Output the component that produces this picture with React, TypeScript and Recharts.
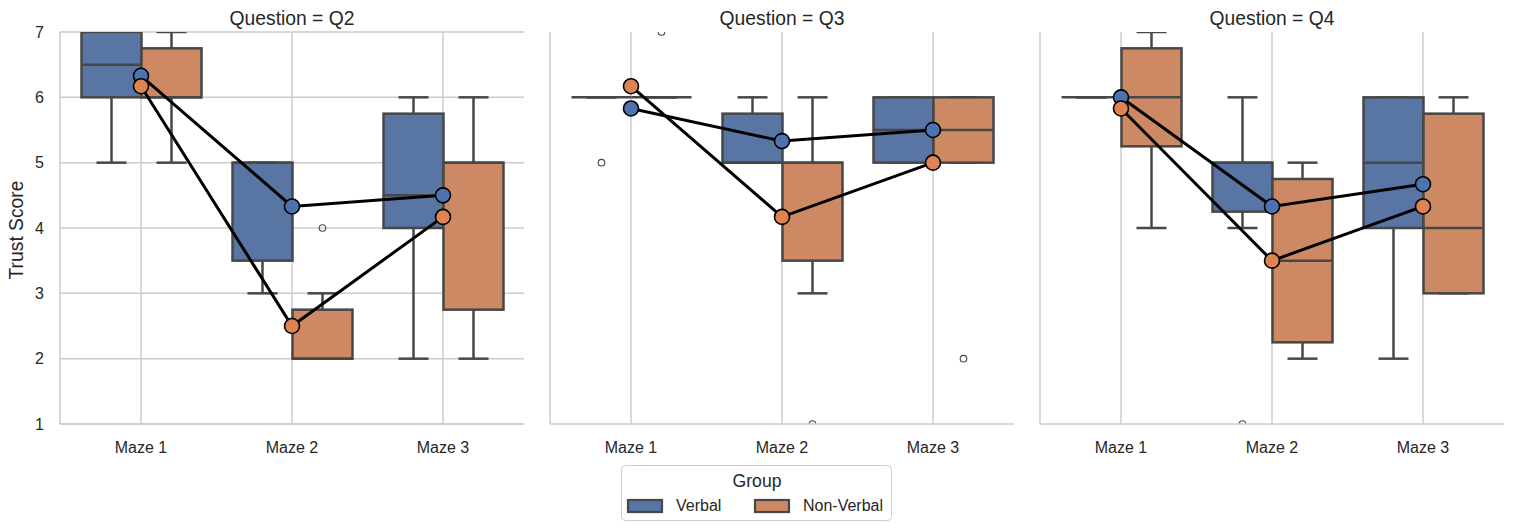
import React from 'react';
import { ComposedChart, Bar, Line, XAxis, YAxis, CartesianGrid } from 'recharts';

const FONT = '"Liberation Sans", Arial, Helvetica, sans-serif';
const TEXT = '#262626';
const GRID = '#cccccc';
const EDGE = '#474747';

const mazes = ['Maze 1', 'Maze 2', 'Maze 3'];
const questions = ['Q2', 'Q3', 'Q4'];
const groups = ['Verbal', 'Non-Verbal'];
const yTicks = [1, 2, 3, 4, 5, 6, 7];

const boxColors = ['#5875a4', '#cc8963'];
const meanColors = ['#4c72b0', '#dd8452'];

// box stats per maze: [lower whisker, Q1, median, Q3, upper whisker]
const q2VerbalBoxes = [[5, 6, 6.5, 7, 7], [3, 3.5, 5, 5, 5], [2, 4, 4.5, 5.75, 6]];
const q2NonVerbalBoxes = [[5, 6, 6, 6.75, 7], [2, 2, 2, 2.75, 3], [2, 2.75, 5, 5, 6]];
const q3VerbalBoxes = [[6, 6, 6, 6, 6], [5, 5, 5, 5.75, 6], [5, 5, 5.5, 6, 6]];
const q3NonVerbalBoxes = [[6, 6, 6, 6, 6], [3, 3.5, 5, 5, 6], [5, 5, 5.5, 6, 6]];
const q4VerbalBoxes = [[6, 6, 6, 6, 6], [4, 4.25, 5, 5, 6], [2, 4, 5, 6, 6]];
const q4NonVerbalBoxes = [[4, 5.25, 6, 6.75, 7], [2, 2.25, 3.5, 4.75, 5], [3, 3, 4, 5.75, 6]];

// outliers per maze
const q2VerbalOutliers = [[], [], []];
const q2NonVerbalOutliers = [[], [4], []];
const q3VerbalOutliers = [[5], [], []];
const q3NonVerbalOutliers = [[7], [1], [2]];
const q4VerbalOutliers = [[], [1], []];
const q4NonVerbalOutliers = [[], [], []];

// means per maze
const q2VerbalMeans = [6.33, 4.33, 4.5];
const q2NonVerbalMeans = [6.17, 2.5, 4.17];
const q3VerbalMeans = [5.83, 5.33, 5.5];
const q3NonVerbalMeans = [6.17, 4.17, 5.0];
const q4VerbalMeans = [6.0, 4.33, 4.67];
const q4NonVerbalMeans = [5.83, 3.5, 4.33];

const panelSources = [
  { boxes: [q2VerbalBoxes, q2NonVerbalBoxes], outs: [q2VerbalOutliers, q2NonVerbalOutliers], means: [q2VerbalMeans, q2NonVerbalMeans] },
  { boxes: [q3VerbalBoxes, q3NonVerbalBoxes], outs: [q3VerbalOutliers, q3NonVerbalOutliers], means: [q3VerbalMeans, q3NonVerbalMeans] },
  { boxes: [q4VerbalBoxes, q4NonVerbalBoxes], outs: [q4VerbalOutliers, q4NonVerbalOutliers], means: [q4VerbalMeans, q4NonVerbalMeans] },
];

const rangeOf = (stats: number[], outs: number[]) => {
  const all = [...stats, ...outs];
  return [Math.min(...all), Math.max(...all)];
};

const buildRows = (src: any) =>
  mazes.map((m, i) => ({
    maze: m,
    s0: src.boxes[0][i],
    s1: src.boxes[1][i],
    o0: src.outs[0][i],
    o1: src.outs[1][i],
    r0: rangeOf(src.boxes[0][i], src.outs[0][i]),
    r1: rangeOf(src.boxes[1][i], src.outs[1][i]),
    m0: src.means[0][i],
    m1: src.means[1][i],
  }));

const makeBoxShape = (g: number) => (props: any) => {
  const { x, y, width, height, payload } = props;
  if (!payload) return null;
  const stats: number[] = payload['s' + g];
  const outs: number[] = payload['o' + g];
  const [lo, hi] = payload['r' + g];
  const py = (v: number) => (hi === lo ? y : y + ((hi - v) / (hi - lo)) * height);
  const cx = x + width / 2;
  const capL = cx - width / 4;
  const capR = cx + width / 4;
  const yTop = py(stats[3]);
  const yBot = py(stats[1]);
  return (
    <g>
      <line x1={cx} x2={cx} y1={py(stats[0])} y2={yBot} stroke={EDGE} strokeWidth={2.5} />
      <line x1={cx} x2={cx} y1={yTop} y2={py(stats[4])} stroke={EDGE} strokeWidth={2.5} />
      <line x1={capL} x2={capR} y1={py(stats[0])} y2={py(stats[0])} stroke={EDGE} strokeWidth={2.5} />
      <line x1={capL} x2={capR} y1={py(stats[4])} y2={py(stats[4])} stroke={EDGE} strokeWidth={2.5} />
      {yBot - yTop > 0.5 && (
        <rect x={x} y={yTop} width={width} height={yBot - yTop} fill={boxColors[g]} stroke={EDGE} strokeWidth={2.5} />
      )}
      <line x1={x} x2={x + width} y1={py(stats[2])} y2={py(stats[2])} stroke={EDGE} strokeWidth={2.5} />
      {outs.map((o, k) => (
        <circle key={k} cx={cx} cy={py(o)} r={3.3} fill="none" stroke={EDGE} strokeWidth={1.1} />
      ))}
    </g>
  );
};

const PANEL_W = 530;
const PANEL_H = 531;
const PANEL_STEP = 490;

function Panel({ idx }: { idx: number }) {
  const rows = buildRows(panelSources[idx]);
  const showY = idx === 0;
  return (
    <div style={{ position: 'absolute', left: idx * PANEL_STEP, top: 0, width: PANEL_W, height: PANEL_H }}>
      <ComposedChart
        width={PANEL_W}
        height={PANEL_H}
        data={rows}
        margin={{ top: 32, right: 6, bottom: 77, left: 0 }}
        barGap={0}
        barSize={60}
      >
        <CartesianGrid stroke={GRID} strokeWidth={1.5} syncWithTicks />
        <XAxis
          dataKey="maze"
          height={30}
          padding={{ left: 5.5, right: 5.5 }}
          tickLine={false}
          tickMargin={12}
          axisLine={{ stroke: GRID, strokeWidth: 1.5 }}
          tick={{ fontSize: 16, fill: TEXT, fontFamily: FONT }}
          interval={0}
        />
        <YAxis
          type="number"
          domain={[1, 7]}
          ticks={yTicks}
          allowDataOverflow
          width={60}
          tickLine={false}
          tickMargin={10}
          axisLine={{ stroke: GRID, strokeWidth: 1.5 }}
          tick={showY ? { fontSize: 16, fill: TEXT, fontFamily: FONT } : false}
        />
        <Bar dataKey={(d: any) => d.r0} name={groups[0]} shape={makeBoxShape(0)} isAnimationActive={false} />
        <Bar dataKey={(d: any) => d.r1} name={groups[1]} shape={makeBoxShape(1)} isAnimationActive={false} />
        <Line
          dataKey="m0"
          name={groups[0]}
          type="linear"
          stroke="#000"
          strokeWidth={3}
          dot={{ r: 7.5, fill: meanColors[0], stroke: '#000', strokeWidth: 1.6 }}
          activeDot={false}
          isAnimationActive={false}
        />
        <Line
          dataKey="m1"
          name={groups[1]}
          type="linear"
          stroke="#000"
          strokeWidth={3}
          dot={{ r: 7.5, fill: meanColors[1], stroke: '#000', strokeWidth: 1.6 }}
          activeDot={false}
          isAnimationActive={false}
        />
      </ComposedChart>
    </div>
  );
}

function Overlay() {
  const plotLeft = 60;
  const plotW = 464;
  return (
    <svg
      width={1513}
      height={531}
      style={{ position: 'absolute', left: 0, top: 0, pointerEvents: 'none' }}
      fontFamily={FONT}
    >
      {questions.map((q, i) => (
        <text
          key={q}
          x={i * PANEL_STEP + plotLeft + plotW / 2}
          y={25}
          textAnchor="middle"
          fontSize={19.3}
          fill={TEXT}
        >
          {`Question = ${q}`}
        </text>
      ))}
      <text
        x={16.5}
        y={230}
        transform="rotate(-90 16.5 230)"
        textAnchor="middle"
        dominantBaseline="central"
        fontSize={19.3}
        fill={TEXT}
      >
        Trust Score
      </text>
      <g>
        <rect x={621.5} y={465.5} width={270} height={55} rx={4} fill="#fff" fillOpacity={0.8} stroke="#cccccc" strokeWidth={1} />
        <text x={757} y={487} textAnchor="middle" fontSize={17.6} fill={TEXT}>
          Group
        </text>
        {groups.map((g, i) => {
          const px = i === 0 ? 628 : 755;
          return (
            <g key={g}>
              <rect x={px} y={500} width={34} height={12} fill={boxColors[i]} stroke={EDGE} strokeWidth={2.2} />
              <text x={px + 48} y={511} fontSize={16} fill={TEXT}>
                {g}
              </text>
            </g>
          );
        })}
      </g>
    </svg>
  );
}

export default function App() {
  return (
    <div style={{ position: 'absolute', left: 0, top: 0, width: 1513, height: 531, background: '#fff' }}>
      {questions.map((q, i) => (
        <Panel key={q} idx={i} />
      ))}
      <Overlay />
    </div>
  );
}
